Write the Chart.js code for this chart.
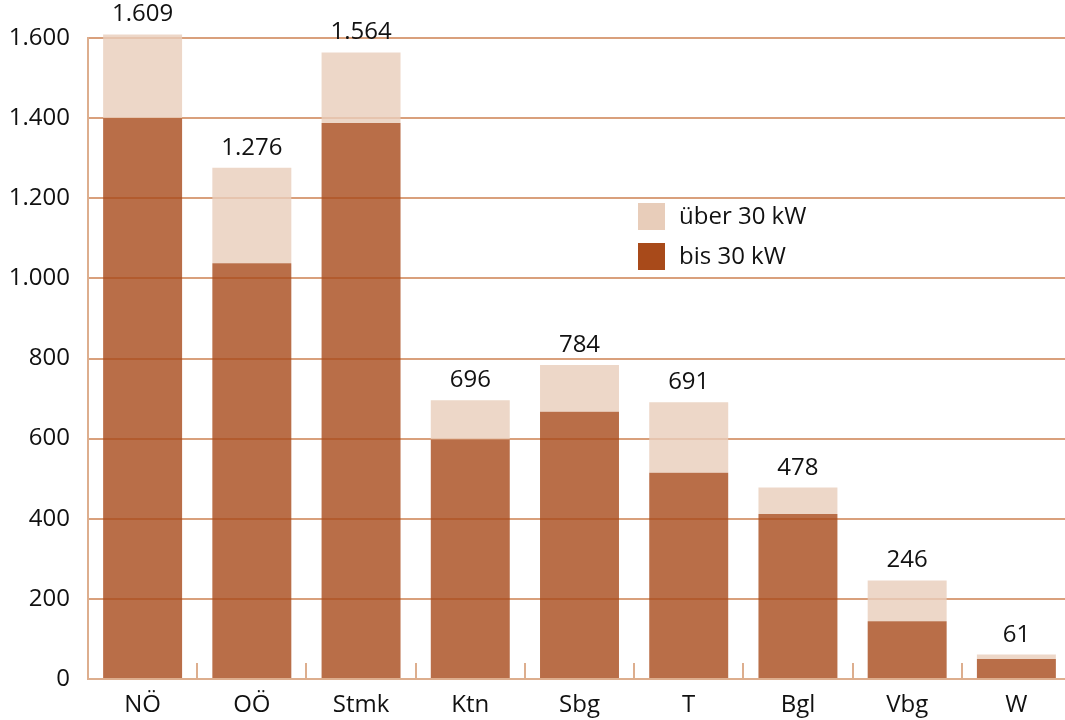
<!DOCTYPE html>
<html>
<head>
<meta charset="utf-8">
<script src="https://cdn.jsdelivr.net/npm/chart.js@4"></script>
<style>
  html, body { margin: 0; padding: 0; background: #fff; overflow: hidden; }
  #wrap { width: 1072px; height: 720px; position: relative; }
</style>
</head>
<body>
<div id="wrap"><canvas id="c"></canvas></div>
<script>
const categories = ['NÖ', 'OÖ', 'Stmk', 'Ktn', 'Sbg', 'T', 'Bgl', 'Vbg', 'W'];
const bis30 = [1400, 1038, 1388, 598, 667, 515, 412, 144, 50];
const totals = [1609, 1276, 1564, 696, 784, 691, 478, 246, 61];
const ueber30 = totals.map((t, i) => t - bis30[i]);
const yTicks = [0, 200, 400, 600, 800, 1000, 1200, 1400, 1600];
const seriesNames = ['bis 30 kW', 'über 30 kW'];

const FONT = '"Open Sans", "Noto Sans", sans-serif';
const DARK = 'rgb(168,74,26)';
const LIGHT = 'rgb(232,205,186)';
const GRID = '#D9A07C';
const AXIS = '#DDAE8E';

function fmt(v) {
  return String(v).replace(/\B(?=(\d{3})+(?!\d))/g, '.');
}

const innerTicks = {
  id: 'innerTicks',
  afterDatasetsDraw(chart) {
    const x = chart.scales.x;
    const ctx = chart.ctx;
    ctx.save();
    ctx.strokeStyle = AXIS;
    ctx.lineWidth = 2;
    for (let i = 1; i < categories.length; i++) {
      const px = Math.round((x.getPixelForValue(i - 1) + x.getPixelForValue(i)) / 2);
      ctx.beginPath();
      ctx.moveTo(px, x.top);
      ctx.lineTo(px, x.top - 16);
      ctx.stroke();
    }
    ctx.restore();
  }
};

const totalLabels = {
  id: 'totalLabels',
  afterDatasetsDraw(chart) {
    const ctx = chart.ctx;
    const meta = chart.getDatasetMeta(1);
    ctx.save();
    ctx.font = '24px ' + FONT;
    ctx.fillStyle = '#111';
    ctx.textAlign = 'center';
    ctx.textBaseline = 'alphabetic';
    meta.data.forEach((bar, i) => {
      ctx.fillText(fmt(totals[i]), bar.x, bar.y - 13);
    });
    ctx.restore();
  }
};

const customLegend = {
  id: 'customLegend',
  afterDraw(chart) {
    const ctx = chart.ctx;
    const items = [
      { label: seriesNames[1], color: LIGHT, y: 203 },
      { label: seriesNames[0], color: DARK, y: 243 }
    ];
    ctx.save();
    ctx.font = '24px ' + FONT;
    ctx.textAlign = 'left';
    ctx.textBaseline = 'middle';
    items.forEach(it => {
      ctx.fillStyle = it.color;
      ctx.fillRect(638, it.y, 27, 27);
      ctx.fillStyle = '#111';
      ctx.fillText(it.label, 679, it.y + 14);
    });
    ctx.restore();
  }
};

new Chart(document.getElementById('c'), {
  type: 'bar',
  data: {
    labels: categories,
    datasets: [
      { label: seriesNames[0], data: bis30, backgroundColor: 'rgba(168,74,26,0.8)', borderWidth: 0, clip: false },
      { label: seriesNames[1], data: ueber30, backgroundColor: 'rgba(232,205,186,0.8)', borderWidth: 0, clip: false }
    ]
  },
  options: {
    responsive: true,
    maintainAspectRatio: false,
    animation: false,
    devicePixelRatio: 1,
    layout: { padding: { top: 38, right: 1, bottom: 0, left: 0 } },
    datasets: { bar: { barPercentage: 0.723, categoryPercentage: 1 } },
    plugins: { legend: { display: false }, tooltip: { enabled: false } },
    scales: {
      x: {
        stacked: true,
        afterFit(scale) { scale.height = 41; },
        grid: { display: true, drawOnChartArea: false, drawTicks: false },
        border: { display: true, color: AXIS, width: 2 },
        ticks: { color: '#111', font: { family: FONT, size: 24 }, padding: 12, maxRotation: 0, autoSkip: false }
      },
      y: {
        stacked: true,
        min: 0,
        max: 1600,
        afterFit(scale) { scale.width = 88; },
        afterBuildTicks(scale) { scale.ticks = yTicks.map(v => ({ value: v })); },
        grid: { color: GRID, lineWidth: 2, drawTicks: false },
        border: { display: true, color: AXIS, width: 2 },
        ticks: { color: '#111', font: { family: FONT, size: 24 }, padding: 18, callback: v => fmt(v) }
      }
    }
  },
  plugins: [innerTicks, totalLabels, customLegend]
});
</script>
</body>
</html>
